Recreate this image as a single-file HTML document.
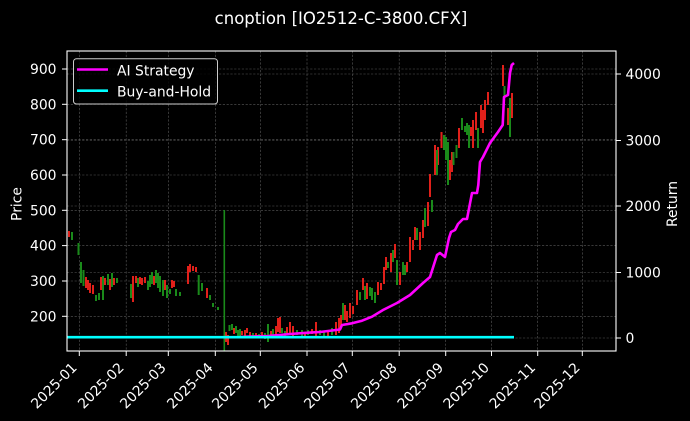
<!DOCTYPE html>
<html><head><meta charset="utf-8"><style>
html,body{margin:0;padding:0;background:#000;}
svg{display:block;}
text{font-family:"DejaVu Sans","Liberation Sans",sans-serif;fill:#fff;}
</style></head><body>
<svg width="690" height="421" viewBox="0 0 690 421" xmlns="http://www.w3.org/2000/svg">
<rect width="690" height="421" fill="#000"/>
<text x="341" y="24" font-size="16.5" text-anchor="middle">cnoption [IO2512-C-3800.CFX]</text>
<defs><clipPath id="ax"><rect x="67" y="51" width="549" height="300"/></clipPath></defs>
<g stroke="#5a5a5a" stroke-width="0.6" stroke-dasharray="2.2,1.6" fill="none">
<line x1="67" x2="616" y1="69" y2="69"/><line x1="67" x2="616" y1="104.3" y2="104.3"/><line x1="67" x2="616" y1="139.7" y2="139.7"/><line x1="67" x2="616" y1="175" y2="175"/><line x1="67" x2="616" y1="210.3" y2="210.3"/><line x1="67" x2="616" y1="245.6" y2="245.6"/><line x1="67" x2="616" y1="281" y2="281"/><line x1="67" x2="616" y1="316.3" y2="316.3"/>
<line x1="67" x2="616" y1="74" y2="74"/><line x1="67" x2="616" y1="140.5" y2="140.5"/><line x1="67" x2="616" y1="206" y2="206"/><line x1="67" x2="616" y1="272.5" y2="272.5"/><line x1="67" x2="616" y1="338" y2="338"/>
<line y1="51" y2="351" x1="79.3" x2="79.3"/><line y1="51" y2="351" x1="126.2" x2="126.2"/><line y1="51" y2="351" x1="168.3" x2="168.3"/><line y1="51" y2="351" x1="215.3" x2="215.3"/><line y1="51" y2="351" x1="260.3" x2="260.3"/><line y1="51" y2="351" x1="307" x2="307"/><line y1="51" y2="351" x1="352.3" x2="352.3"/><line y1="51" y2="351" x1="399.2" x2="399.2"/><line y1="51" y2="351" x1="445.7" x2="445.7"/><line y1="51" y2="351" x1="491.5" x2="491.5"/><line y1="51" y2="351" x1="537.7" x2="537.7"/><line y1="51" y2="351" x1="582.3" x2="582.3"/>
</g>
<g clip-path="url(#ax)">
<g fill="#e0201a">
<rect x="68" y="231" width="2" height="6"/><rect x="85" y="277" width="2" height="11"/><rect x="87" y="280" width="2" height="10"/><rect x="89" y="283" width="2" height="10"/><rect x="92" y="285" width="2" height="9"/><rect x="100" y="277" width="2" height="13"/><rect x="104" y="278" width="2" height="7"/><rect x="109" y="279" width="2" height="11"/><rect x="113" y="278" width="2" height="7"/>
<rect x="132" y="276" width="2" height="26"/><rect x="135" y="276" width="2" height="7"/><rect x="139" y="277" width="2" height="7"/><rect x="141" y="278" width="2" height="7"/><rect x="144" y="277" width="2" height="6"/><rect x="153" y="276" width="2" height="9"/><rect x="164" y="280" width="2" height="10"/><rect x="171" y="280" width="2" height="8"/><rect x="173" y="281" width="2" height="6"/>
<rect x="187" y="266" width="2" height="18"/><rect x="189" y="264" width="2" height="8"/><rect x="192" y="266" width="2" height="5"/><rect x="195" y="267" width="2" height="5"/><rect x="206" y="288" width="2" height="10"/>
<rect x="225" y="332" width="2" height="10"/><rect x="227" y="335" width="2" height="10"/><rect x="233" y="328" width="2" height="6"/><rect x="241" y="331" width="2" height="4"/><rect x="244" y="330" width="2" height="6"/><rect x="246" y="328" width="2" height="5"/><rect x="249" y="332" width="2" height="6"/><rect x="255" y="333" width="2" height="5"/><rect x="261" y="332" width="2" height="5"/><rect x="270" y="331" width="2" height="6"/><rect x="275" y="326" width="2" height="9"/><rect x="277" y="318" width="2" height="14"/><rect x="279" y="317" width="2" height="16"/><rect x="286" y="327" width="2" height="6"/><rect x="289" y="322" width="2" height="11"/><rect x="292" y="326" width="2" height="10"/><rect x="304" y="332" width="2" height="4"/><rect x="311" y="329" width="2" height="5"/><rect x="315" y="322" width="2" height="14"/><rect x="327" y="331" width="2" height="5"/><rect x="335" y="322" width="2" height="13"/><rect x="338" y="318" width="2" height="15"/><rect x="340" y="315" width="2" height="13"/><rect x="344" y="305" width="2" height="15"/><rect x="346" y="311" width="2" height="11"/><rect x="349" y="303" width="2" height="15"/><rect x="352" y="306" width="2" height="8"/><rect x="356" y="290" width="2" height="15"/><rect x="362" y="278" width="2" height="12"/><rect x="366" y="283" width="2" height="16"/><rect x="377" y="282" width="2" height="13"/><rect x="380" y="283" width="2" height="7"/><rect x="383" y="267" width="2" height="17"/><rect x="385" y="257" width="2" height="13"/><rect x="390" y="253" width="2" height="19"/><rect x="394" y="244" width="2" height="14"/><rect x="399" y="272" width="2" height="13"/><rect x="406" y="262" width="2" height="10"/><rect x="409" y="237" width="2" height="25"/><rect x="412" y="240" width="2" height="10"/><rect x="414" y="227" width="2" height="13"/><rect x="419" y="232" width="2" height="18"/><rect x="422" y="220" width="2" height="18"/><rect x="427" y="202" width="2" height="24"/><rect x="429" y="174" width="2" height="23"/><rect x="434" y="145" width="2" height="30"/><rect x="437" y="147" width="2" height="18"/><rect x="440.5" y="132" width="2" height="16"/><rect x="449" y="160" width="2" height="20"/><rect x="451" y="152" width="2" height="20"/><rect x="458" y="128" width="2" height="20"/><rect x="470" y="127" width="2" height="9"/><rect x="472" y="120" width="2" height="28"/><rect x="475" y="112" width="2" height="18"/><rect x="480" y="105" width="2" height="23"/><rect x="482" y="110" width="2" height="23"/><rect x="484" y="100" width="2" height="20"/><rect x="487" y="92" width="2" height="13"/><rect x="502" y="65" width="2" height="21"/><rect x="507" y="108" width="2" height="17"/><rect x="511" y="93" width="2" height="25"/>
</g>
<g fill="#1a8a1a">
<rect x="71" y="232" width="2" height="8"/><rect x="77.5" y="243" width="2" height="12"/><rect x="80" y="262" width="2" height="21"/><rect x="82.5" y="270" width="2" height="16"/><rect x="95" y="295" width="2" height="6"/><rect x="98" y="293" width="2" height="7"/><rect x="102" y="276" width="2" height="24"/><rect x="107" y="274" width="2" height="11"/><rect x="111" y="273" width="2" height="14"/><rect x="116" y="278" width="2" height="5"/>
<rect x="130" y="284" width="2" height="14"/><rect x="137" y="278" width="2" height="9"/><rect x="147" y="281" width="2" height="9"/><rect x="149" y="275" width="2" height="12"/><rect x="151" y="272" width="2" height="12"/><rect x="155" y="270" width="2" height="13"/><rect x="157" y="273" width="2" height="15"/><rect x="159" y="276" width="2" height="16"/><rect x="162" y="280" width="2" height="16"/><rect x="166" y="285" width="2" height="13"/><rect x="169" y="289" width="2" height="5"/><rect x="175" y="289" width="2" height="7"/><rect x="179" y="292" width="2" height="4"/>
<rect x="197.7" y="275" width="2" height="20"/><rect x="201" y="283" width="2" height="8"/><rect x="209" y="295" width="2" height="5"/><rect x="212" y="303" width="2" height="4"/><rect x="217" y="307" width="2" height="3"/>
<rect x="223.5" y="210" width="1.6" height="141"/>
<rect x="228.5" y="325" width="2" height="6"/><rect x="231" y="324" width="2" height="6"/><rect x="235" y="326" width="2" height="7"/><rect x="237" y="330" width="2" height="6"/><rect x="239" y="329" width="2" height="8"/><rect x="252" y="333" width="2" height="4"/><rect x="258" y="334" width="2" height="4"/><rect x="264" y="333" width="2" height="6"/><rect x="267" y="324" width="2" height="18"/><rect x="272" y="329" width="2" height="6"/><rect x="281" y="328" width="2" height="5"/><rect x="284" y="331" width="2" height="5"/><rect x="296" y="330" width="2" height="5"/><rect x="301" y="330" width="2" height="6"/><rect x="307" y="330" width="2" height="5"/><rect x="319" y="330" width="2" height="5"/><rect x="323" y="331" width="2" height="5"/><rect x="331" y="328" width="2" height="7"/><rect x="342" y="303" width="2" height="17"/><rect x="359" y="292" width="2" height="8"/><rect x="364" y="286" width="2" height="14"/><rect x="369" y="287" width="2" height="9"/><rect x="371" y="288" width="2" height="12"/><rect x="374" y="292" width="2" height="11"/><rect x="387" y="262" width="2" height="6"/><rect x="392" y="250" width="2" height="12"/><rect x="396" y="260" width="2" height="25"/><rect x="402" y="262" width="2" height="13"/><rect x="404" y="265" width="2" height="10"/><rect x="416" y="228" width="2" height="12"/><rect x="424" y="208" width="2" height="19"/><rect x="431" y="200" width="2" height="12"/><rect x="436" y="150" width="2" height="25"/><rect x="443" y="135" width="2" height="15"/><rect x="445" y="137" width="2" height="23"/><rect x="447" y="142" width="2" height="43"/><rect x="452.5" y="152" width="2" height="13"/><rect x="455.5" y="145" width="2" height="13"/><rect x="461" y="118" width="2" height="12"/><rect x="464" y="126" width="2" height="6"/><rect x="466" y="123" width="2" height="12"/><rect x="468" y="125" width="2" height="23"/><rect x="477" y="128" width="2" height="20"/><rect x="503.5" y="86" width="2" height="10"/><rect x="509" y="98" width="2" height="39"/>
</g>
<polyline fill="none" stroke="#ff00ff" stroke-width="2.6" stroke-linejoin="round" points="240,337 247,336.7 268,336 290,334 308,332.7 320,332 340,329.5 342,325 352,323.3 362,320.7 372,316.7 383,310 397,303 410,295 423,283 430,277 437,255 440,253 445,257 449,238 451,232 455,230 458,224 460,222 463,219 467,219 472,193 477,193 478.3,185 480,162 483,157 490,143 498,132 502.7,125 504,97 508,95 510,73 511.7,65 514,63"/>
<line x1="67" x2="514" y1="337.2" y2="337.2" stroke="#00ffff" stroke-width="2.6"/>
</g>
<rect x="67" y="51" width="549" height="300" fill="none" stroke="#fff" stroke-width="1.1"/>
<g stroke="#fff" stroke-width="1">
<line x1="62" x2="67" y1="69" y2="69"/><line x1="62" x2="67" y1="104.3" y2="104.3"/><line x1="62" x2="67" y1="139.7" y2="139.7"/><line x1="62" x2="67" y1="175" y2="175"/><line x1="62" x2="67" y1="210.3" y2="210.3"/><line x1="62" x2="67" y1="245.6" y2="245.6"/><line x1="62" x2="67" y1="281" y2="281"/><line x1="62" x2="67" y1="316.3" y2="316.3"/>
<line x1="616" x2="621" y1="74" y2="74"/><line x1="616" x2="621" y1="140.5" y2="140.5"/><line x1="616" x2="621" y1="206" y2="206"/><line x1="616" x2="621" y1="272.5" y2="272.5"/><line x1="616" x2="621" y1="338" y2="338"/>
<line y1="351" y2="356" x1="79.3" x2="79.3"/><line y1="351" y2="356" x1="126.2" x2="126.2"/><line y1="351" y2="356" x1="168.3" x2="168.3"/><line y1="351" y2="356" x1="215.3" x2="215.3"/><line y1="351" y2="356" x1="260.3" x2="260.3"/><line y1="351" y2="356" x1="307" x2="307"/><line y1="351" y2="356" x1="352.3" x2="352.3"/><line y1="351" y2="356" x1="399.2" x2="399.2"/><line y1="351" y2="356" x1="445.7" x2="445.7"/><line y1="351" y2="356" x1="491.5" x2="491.5"/><line y1="351" y2="356" x1="537.7" x2="537.7"/><line y1="351" y2="356" x1="582.3" x2="582.3"/>
</g>
<g font-size="13.9" text-anchor="end">
<text x="56.5" y="74">900</text><text x="56.5" y="109.3">800</text><text x="56.5" y="144.7">700</text><text x="56.5" y="180">600</text><text x="56.5" y="215.3">500</text><text x="56.5" y="250.6">400</text><text x="56.5" y="286">300</text><text x="56.5" y="321.3">200</text>
</g>
<g font-size="13.9">
<text x="625.5" y="79">4000</text><text x="625.5" y="145.5">3000</text><text x="625.5" y="211">2000</text><text x="625.5" y="277.5">1000</text><text x="625.5" y="343">0</text>
</g>
<g font-size="13.9" text-anchor="end">
<text transform="translate(77.8,368.5) rotate(-45)">2025-01</text>
<text transform="translate(124.7,368.5) rotate(-45)">2025-02</text>
<text transform="translate(166.8,368.5) rotate(-45)">2025-03</text>
<text transform="translate(213.8,368.5) rotate(-45)">2025-04</text>
<text transform="translate(258.8,368.5) rotate(-45)">2025-05</text>
<text transform="translate(305.5,368.5) rotate(-45)">2025-06</text>
<text transform="translate(350.8,368.5) rotate(-45)">2025-07</text>
<text transform="translate(397.7,368.5) rotate(-45)">2025-08</text>
<text transform="translate(444.2,368.5) rotate(-45)">2025-09</text>
<text transform="translate(490,368.5) rotate(-45)">2025-10</text>
<text transform="translate(536.2,368.5) rotate(-45)">2025-11</text>
<text transform="translate(580.8,368.5) rotate(-45)">2025-12</text>
</g>
<text font-size="13.9" text-anchor="middle" transform="translate(21.5,204) rotate(-90)">Price</text>
<text font-size="13.9" text-anchor="middle" transform="translate(677,204) rotate(-90)">Return</text>
<rect x="73.5" y="58.7" width="144" height="45.3" rx="3" fill="#000" fill-opacity="0.8" stroke="#cccccc" stroke-width="1"/>
<line x1="77" x2="108" y1="69.5" y2="69.5" stroke="#ff00ff" stroke-width="2.6"/>
<line x1="77" x2="108" y1="90.7" y2="90.7" stroke="#00ffff" stroke-width="2.6"/>
<g font-size="13.9"><text x="117" y="75.5">AI Strategy</text><text x="117" y="96.7">Buy-and-Hold</text></g>
</svg>
</body></html>
